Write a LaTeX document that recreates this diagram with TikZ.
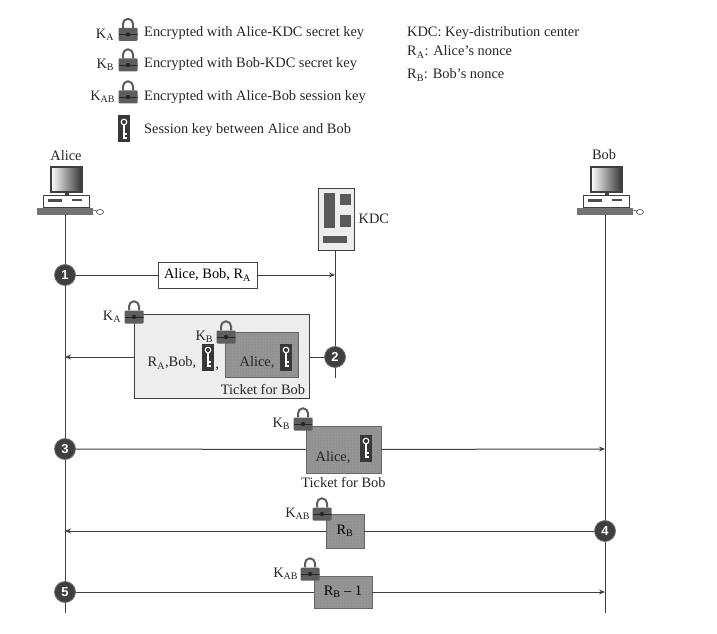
\documentclass[tikz,border=0pt]{standalone}
\usepackage{fontspec}
\setmainfont{Liberation Serif}
\setsansfont{Liberation Sans}
\usetikzlibrary{arrows.meta, positioning, shapes.geometric, calc, patterns}
\definecolor{inkgray}{HTML}{3F3F3F}
\definecolor{lockgray}{HTML}{5E5E5E}
\definecolor{ticketgray}{HTML}{959595}
\definecolor{panelgray}{HTML}{EDEDED}
\begin{document}
\begin{tikzpicture}[
  x=1pt, y=1pt,
  font=\fontsize{14.4}{16}\selectfont,
  txt/.style={inner sep=0pt, text=black!85},
  lftxt/.style={txt, anchor=west},
  life/.style={draw=inkgray, line width=1pt},
  arrow/.style={-{Stealth[length=6pt, width=5pt]}, draw=inkgray, line width=1pt},
  stepnum/.style={circle, fill=inkgray, draw=black!55, line width=0.8pt, minimum size=21pt, inner sep=0pt,
    text=white, font=\sffamily\bfseries\fontsize{13}{13}\selectfont},
  msgbox/.style={rectangle, draw=inkgray, fill=white, line width=0.8pt, minimum width=99pt, minimum height=26pt, inner sep=0pt},
  outerbox/.style={rectangle, draw=inkgray, fill=panelgray, line width=0.8pt, minimum width=175pt, minimum height=84pt},
  ticket/.style={rectangle, draw=black!60, fill=ticketgray, line width=0.8pt, inner sep=0pt,
    postaction={pattern=dots, pattern color=black!55}},
  lock/.style={rectangle, fill=lockgray, rounded corners=1pt, minimum width=19pt, minimum height=13pt, inner sep=0pt,
    path picture={\fill[black!85] (path picture bounding box.center) circle[radius=2.2pt];
      \draw[black!85, line width=0.8pt] (path picture bounding box.west) -- (path picture bounding box.east);},
    append after command={\pgfextra{
      \draw[lockgray, line width=2pt] ($(\tikzlastnode.north)+(-5,0)$) -- ++(0,4) arc[start angle=180, end angle=0, radius=5pt] -- ++(0,-4);
    }}},
  keytag/.style={rectangle, fill=black!78, minimum width=12pt, minimum height=27pt, inner sep=0pt,
    path picture={
      \draw[white, line width=1.1pt] ($(path picture bounding box.center)+(0,7)$) circle[radius=2.8pt];
      \draw[white, line width=1.1pt] ($(path picture bounding box.center)+(0,4)$) -- ++(0,-14)
        ($(path picture bounding box.center)+(0,-5)$) -- ++(3,0)
        ($(path picture bounding box.center)+(0,-9)$) -- ++(3,0);
    }},
  rackpart/.style={rectangle, fill=black!65, inner sep=0pt},
  computer/.pic={
    \draw[inkgray, line width=1.4pt, left color=white, right color=black!80] (-14,24) rectangle (17,49);
    \fill[inkgray] (0,21) rectangle (4,24);
    \node[rectangle, draw=inkgray, fill=white, line width=0.8pt, minimum width=46pt, minimum height=12pt, inner sep=0pt] (-base) at (1,15) {};
    \fill[black!70] (-17,14) rectangle (-3,17);
    \fill[black!70] (7,15) rectangle (17,16.5);
    \node[rectangle, fill=black!55, minimum width=56pt, minimum height=7pt, inner sep=0pt] (-kbd) at (0,4.5) {};
    \draw[inkgray, line width=0.6pt] (28,6) -- (32,5);
    \draw[inkgray, fill=white, line width=0.6pt] (35,4) ellipse[x radius=3.5pt, y radius=2.5pt];
  },
]
  \useasboundingbox (0,0) rectangle (717,633);

  % legend
  \node[lock] (lockLegA) at (128,598.5) {};
  \node[lock] (lockLegB) at (128,568) {};
  \node[lock] (lockLegAB) at (128,536) {};
  \node[keytag] (keyLeg) at (124,504) {};
  \node[txt, left=4pt of lockLegA] (kLegA) {K\textsubscript{A}};
  \node[txt, left=4pt of lockLegB] (kLegB) {K\textsubscript{B}};
  \node[txt, left=3pt of lockLegAB] (kLegAB) {K\textsubscript{AB}};
  \node[lftxt] (legA) at (144,600) {Encrypted with Alice-KDC secret key};
  \node[lftxt] (legB) at (144,569) {Encrypted with Bob-KDC secret key};
  \node[lftxt] (legAB) at (144,536) {Encrypted with Alice-Bob session key};
  \node[lftxt] (legKey) at (144,503) {Session key between Alice and Bob};
  \node[lftxt] (legKDC) at (407,600) {KDC: Key-distribution center};
  \node[lftxt] (legRA) at (407,581) {R\textsubscript{A}: Alice's nonce};
  \node[lftxt] (legRB) at (407,558) {R\textsubscript{B}: Bob's nonce};

  % computers
  \pic (alice) at (65,417) {computer};
  \pic (bob) at (605,417) {computer};
  \node[txt] (aliceName) at (66,477) {Alice};
  \node[txt] (bobName) at (604,478) {Bob};

  % KDC
  \node[rectangle, draw=inkgray, fill=panelgray, line width=0.8pt, minimum width=36pt, minimum height=62pt] (kdc) at (336,414) {};
  \node[rackpart, minimum width=11pt, minimum height=35pt] (rackA) at (329.5,422.5) {};
  \node[rackpart, minimum width=11pt, minimum height=11pt] (rackB) at (345,433) {};
  \node[rackpart, minimum width=11pt, minimum height=12pt] (rackC) at (345,412) {};
  \node[rackpart, minimum width=24pt, minimum height=7pt] (rackD) at (335,393.5) {};
  \node[lftxt, right=4pt of kdc] (kdcName) {KDC};

  % lifelines
  \coordinate (aliceEnd) at (65,20);
  \coordinate (bobEnd) at (605,20);
  \coordinate (kdcEnd) at (335,255);
  \draw[life] (alice-kbd.south) -- (aliceEnd);
  \draw[life] (bob-kbd.south) -- (bobEnd);
  \draw[life] (kdc.south -| kdcEnd) -- (kdcEnd);

  % step 1
  \node[stepnum] (stepA) at (65,358) {1};
  \node[msgbox] (msgA) at (207.5,358) {Alice, Bob, R\textsubscript{A}};
  \coordinate (kdcIn) at (335,358);
  \draw[life] (stepA) -- (msgA);
  \draw[arrow] (msgA) -- (kdcIn);

  % step 2
  \node[stepnum] (stepB) at (335,276) {2};
  \node[outerbox] (outer) at (221.5,277) {};
  \coordinate (aliceIn) at (65,276);
  \node[ticket, minimum width=73pt, minimum height=45pt] (ticketA) at (261.5,278.5) {};
  \node[txt] (ticketAText) at (257,270) {Alice,};
  \node[keytag] (keyTicketA) at (286,276) {};
  \node[txt] (listA) at (172,270) {R\textsubscript{A},Bob,};
  \node[keytag] (keyListA) at (208,276) {};
  \node[txt, right=1pt of keyListA.south east, anchor=south west] (commaA) {,};
  \node[txt] (ticketALabel) at (263,244) {Ticket for Bob};
  \draw[life] (stepB) -- (stepB -| outer.east);
  \draw[arrow] (stepB -| outer.west) -- (aliceIn);
  \node[lock] (lockOuter) at (134,316) {};
  \node[txt, left=3pt of lockOuter] (kOuter) {K\textsubscript{A}};
  \node[lock] (lockTicketA) at (226,296) {};
  \node[txt, left=3pt of lockTicketA] (kTicketA) {K\textsubscript{B}};

  % step 3
  \node[stepnum] (stepC) at (65,184) {3};
  \node[ticket, minimum width=75pt, minimum height=47pt] (ticketB) at (343.5,183.5) {};
  \node[txt] (ticketBText) at (333,175) {Alice,};
  \node[keytag] (keyTicketB) at (366,185) {};
  \node[txt, below=4pt of ticketB] (ticketBLabel) {Ticket for Bob};
  \coordinate (bobIn) at (605,184);
  \draw[life] (stepC) -- (ticketB);
  \draw[arrow] (ticketB) -- (bobIn);
  \node[lock] (lockTicketB) at (303,209) {};
  \node[txt, left=3pt of lockTicketB] (kTicketB) {K\textsubscript{B}};

  % step 4
  \node[stepnum] (stepD) at (605,102) {4};
  \node[ticket, minimum width=38pt, minimum height=34pt] (nonceA) at (345,102) {R\textsubscript{B}};
  \coordinate (aliceBack) at (65,102);
  \draw[life] (stepD) -- (nonceA);
  \draw[arrow] (nonceA) -- (aliceBack);
  \node[lock] (lockNonceA) at (322,119) {};
  \node[txt, left=2pt of lockNonceA] (kNonceA) {K\textsubscript{AB}};

  % step 5
  \node[stepnum] (stepE) at (65,41) {5};
  \node[ticket, minimum width=58pt, minimum height=32pt] (nonceB) at (343,41) {R\textsubscript{B} -- 1};
  \coordinate (bobLast) at (605,41);
  \draw[life] (stepE) -- (nonceB);
  \draw[arrow] (nonceB) -- (bobLast);
  \node[lock] (lockNonceB) at (310,59) {};
  \node[txt, left=2pt of lockNonceB] (kNonceB) {K\textsubscript{AB}};
\end{tikzpicture}
\end{document}
